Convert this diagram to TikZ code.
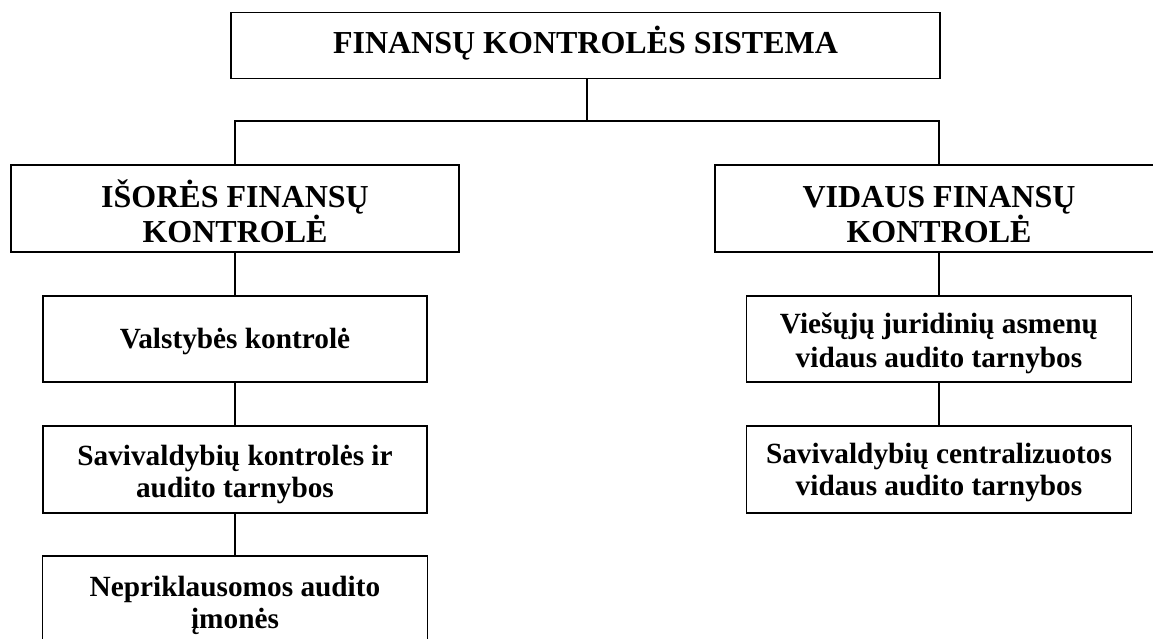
\documentclass[tikz,border=0pt]{standalone}
\usepackage{fontspec}
\setmainfont{Liberation Serif}
\begin{document}
\begin{tikzpicture}[x=1pt,y=-1pt,
  box/.style={draw, line width=1.7pt, inner sep=0pt, align=center},
  tx/.style={text height=#1pt, text depth=0pt},
  headfont/.style={font=\fontsize{32}{35}\selectfont\bfseries},
  subfont/.style={font=\fontsize{29.3}{32}\selectfont\bfseries},
  conn/.style={line width=1.6pt}]
\useasboundingbox (0,0) rectangle (1153,638);
\node[box, headfont, tx=15, minimum width=709pt, minimum height=66pt] (top) at (585.5,45.5) {FINANSŲ KONTROLĖS SISTEMA};
\node[box, headfont, tx=67, minimum width=448pt, minimum height=87pt] (ext) at (235,208.5) {IŠORĖS FINANSŲ\\KONTROLĖ};
\node[box, headfont, tx=67, minimum width=448pt, minimum height=87pt] (int) at (939,208.5) {VIDAUS FINANSŲ\\KONTROLĖ};
\node[box, subfont, tx=18, minimum width=384pt, minimum height=86pt] (e1) at (235,339) {Valstybės kontrolė};
\node[box, subfont, tx=55, minimum width=384pt, minimum height=87pt] (e2) at (235,469.5) {Savivaldybių kontrolės ir\\audito tarnybos};
\node[box, subfont, tx=56, minimum width=385pt, minimum height=88pt] (e3) at (235,600) {Nepriklausomos audito\\įmonės};
\node[box, font=\fontsize{29.3}{34}\selectfont\bfseries, tx=56, minimum width=385pt, minimum height=86pt] (i1) at (939,339) {Viešųjų juridinių asmenų\\vidaus audito tarnybos};
\node[box, subfont, tx=51, minimum width=385pt, minimum height=87pt] (i2) at (939,469.5) {Savivaldybių centralizuotos\\vidaus audito tarnybos};
\coordinate (bus) at (587,121);
\draw[conn] (bus |- top.south) -- (bus);
\draw[conn] (ext.north) |- (bus) -| (int.north);
\draw[conn] (ext.south) -- (e1.north);
\draw[conn] (e1.south) -- (e2.north);
\draw[conn] (e2.south) -- (e3.north);
\draw[conn] (int.south) -- (i1.north);
\draw[conn] (i1.south) -- (i2.north);
\end{tikzpicture}
\end{document}
